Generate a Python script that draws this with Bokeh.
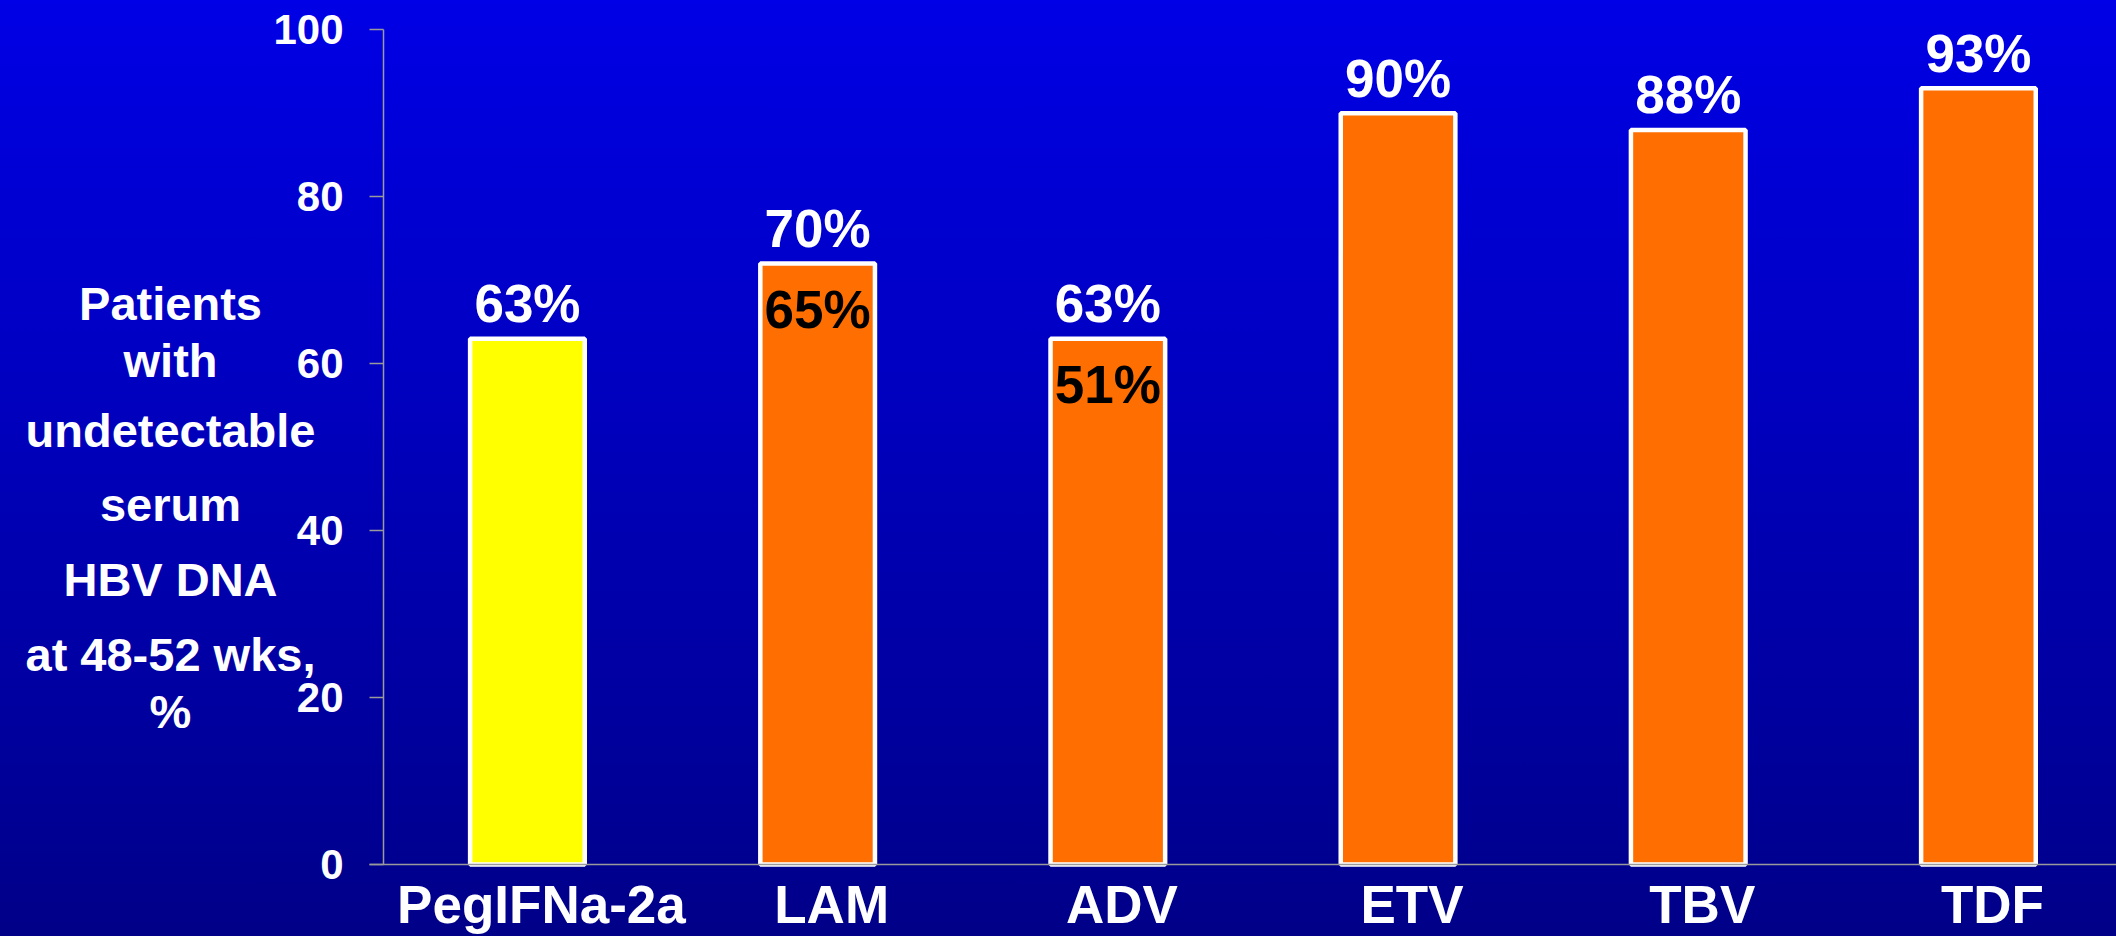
from bokeh.plotting import figure
from bokeh.models import Range1d, FixedTicker, ColumnDataSource
from bokeh.core.properties import value
from bokeh.embed import file_html
from bokeh.resources import INLINE

# ---------------- data ----------------
categories = ["PegIFNa-2a", "LAM", "ADV", "ETV", "TBV", "TDF"]
bar_values = [63, 72, 63, 90, 88, 93]
top_labels = ["63%", "70%", "63%", "90%", "88%", "93%"]
inner_categories = ["LAM", "ADV"]
inner_labels = ["65%", "51%"]
y_ticks = [0, 20, 40, 60, 80, 100]
y_title_lines = ["Patients", "with", "undetectable", "serum", "HBV DNA",
                 "at 48-52 wks,", "%"]

# ---------------- styles / layout ----------------
bar_colors = ["#FFFF00", "#FF6E00", "#FF6E00", "#FF6E00", "#FF6E00", "#FF6E00"]
FONT = "'Liberation Sans', Arial, sans-serif"
AXIS_GRAY = "#9a9a9a"
W, H = 2116, 936
AXIS_PX = 383          # y-axis position, px from left
ZERO_PX = 864          # y = 0, px from top
PX_PER_X = 290.2       # px per category
PX_PER_Y = 8.347       # px per percent
X_AT_AXIS = 0.004
title_baselines = [322, 379, 449, 523, 598, 673, 730]  # px from top
TITLE_CX = 170
CAT_BASELINE = 925


def px_to_x(px):
    return X_AT_AXIS + (px - AXIS_PX) / PX_PER_X


def px_to_y(py):
    return (ZERO_PX - py) / PX_PER_Y


xs = [i + 0.5 for i in range(len(categories))]
src = ColumnDataSource(dict(x=xs, top=bar_values, color=bar_colors,
                            label=top_labels, cat=categories,
                            cat_y=[px_to_y(CAT_BASELINE)] * len(categories)))
inner_src = ColumnDataSource(dict(
    x=[xs[categories.index(c)] for c in inner_categories],
    top=[bar_values[categories.index(c)] for c in inner_categories],
    label=inner_labels))
title_src = ColumnDataSource(dict(
    x=[px_to_x(TITLE_CX)] * len(y_title_lines),
    y=[px_to_y(b) for b in title_baselines],
    text=y_title_lines))

p = figure(width=W, height=H, output_backend="svg", toolbar_location=None,
           x_range=Range1d(px_to_x(0), px_to_x(W)),
           y_range=Range1d(px_to_y(H), px_to_y(0)),
           min_border=0)
p.background_fill_color = None
p.border_fill_color = None
p.outline_line_color = None
p.styles = {"background": "linear-gradient(to bottom, #0000E6 0%, #0000B8 50%, #000088 100%)"}
p.xgrid.visible = False
p.ygrid.visible = False

p.vbar(x="x", top="top", bottom=0, width=0.395, fill_color="color",
       line_color="white", line_width=4.5, source=src)

p.text(x="x", y="top", text="label", source=src, text_align="center",
       text_baseline="alphabetic", y_offset=-35, text_color="white",
       text_font=value(FONT), text_font_style="bold", text_font_size="53px")
p.text(x="x", y="top", text="label", source=inner_src, text_align="center",
       text_baseline="alphabetic", y_offset=46, text_color="black",
       text_font=value(FONT), text_font_style="bold", text_font_size="53px")

# category labels
p.text(x="x", y="cat_y", text="cat", source=src, text_align="center",
       text_baseline="alphabetic", x_offset=14, y_offset=-21, text_color="white",
       text_font=value(FONT), text_font_style="bold", text_font_size="53px")

# y title
p.text(x="x", y="y", text="text", source=title_src, text_align="center",
       text_baseline="alphabetic", y_offset=-19, text_color="white",
       text_font=value(FONT), text_font_style="bold", text_font_size="47px")

# y axis
ya = p.yaxis[0]
ya.fixed_location = X_AT_AXIS
ya.bounds = (0, 100)
ya.ticker = FixedTicker(ticks=y_ticks)
ya.axis_line_color = AXIS_GRAY
ya.axis_line_width = 1.5
ya.major_tick_line_color = AXIS_GRAY
ya.major_tick_line_width = 1.5
ya.major_tick_out = 14
ya.major_tick_in = 0
ya.minor_tick_line_color = None
ya.major_label_standoff = 26
ya.major_label_text_color = "white"
ya.major_label_text_font = FONT
ya.major_label_text_font_style = "bold"
ya.major_label_text_font_size = "42px"

# x axis
xa = p.xaxis[0]
xa.fixed_location = 0
xa.bounds = (px_to_x(AXIS_PX - 14), px_to_x(W))
xa.ticker = FixedTicker(ticks=[])
xa.axis_line_color = AXIS_GRAY
xa.axis_line_width = 1.5
xa.major_tick_line_color = None
xa.minor_tick_line_color = None

open("out.html", "w").write(file_html(p, INLINE))
